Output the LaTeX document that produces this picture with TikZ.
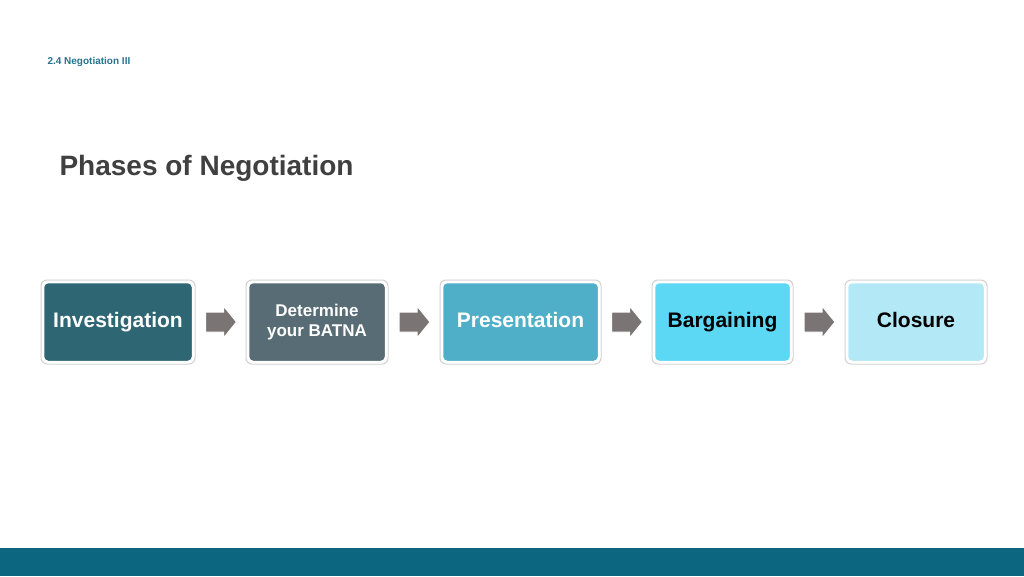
\documentclass[tikz,border=0pt]{standalone}
\usepackage{fontspec}
\setmainfont{Liberation Sans}
\definecolor{c1}{HTML}{2F6673}
\definecolor{c2}{HTML}{576C74}
\definecolor{c3}{HTML}{4FAFC8}
\definecolor{c4}{HTML}{5CD8F4}
\definecolor{c5}{HTML}{B3E9F6}
\definecolor{band}{HTML}{0C6680}
\definecolor{arr}{HTML}{7A7574}
\begin{document}
\begin{tikzpicture}[x=1pt,y=-1pt,
 box/.style={draw=white,line width=2.5pt,rounded corners=5pt,minimum height=80pt,font=\bfseries\fontsize{21}{21}\selectfont,align=center,inner sep=0pt},
 shadowbox/.style={draw=black!18,line width=1pt,rounded corners=6pt},
 arrw/.style={fill=arr,draw=white,line width=1pt}]
\useasboundingbox (0,0) rectangle (1024,576);
\fill[white] (0,0) rectangle (1024,576);
\fill[band] (0,548) rectangle (1024,576);
\node[anchor=west,text=band!90,font=\bfseries\fontsize{10}{10}\selectfont] (hdr) at (44,62) {2.4 Negotiation III};
\node[anchor=west,text=black!75,font=\bfseries\fontsize{28}{28}\selectfont] (title) at (56,168) {Phases of Negotiation};
\foreach \n/\xa/\xb/\c/\t/\txt in {a/43/193/c1/white/Investigation,b/248/386/c2/white/{\fontsize{17}{17}\selectfont Determine\\[-1pt]\fontsize{17}{17}\selectfont your BATNA},c/442/599/c3/white/{Presentation\vphantom{g}},d/654/791/c4/black/Bargaining,e/847/985/c5/black/{Closure\vphantom{g}}}{
 \draw[shadowbox] (\xa-2,280) rectangle (\xb+2,364);
 \node[box,fill=\c,text=\t,minimum width={\xb-\xa}] (\n) at ({(\xa+\xb)/2},322) {\txt};
}
\foreach \p/\q in {a/b,b/c,c/d,d/e}{
 \path (\p.east) -- (\q.west) coordinate[pos=0.5] (m\p);
 \draw[arrw] (m\p) ++(-15,-10) -- ++(18,0) -- ++(0,-6) -- ++(13,16) -- ++(-13,16) -- ++(0,-6) -- ++(-18,0) -- cycle;
}
\end{tikzpicture}
\end{document}
